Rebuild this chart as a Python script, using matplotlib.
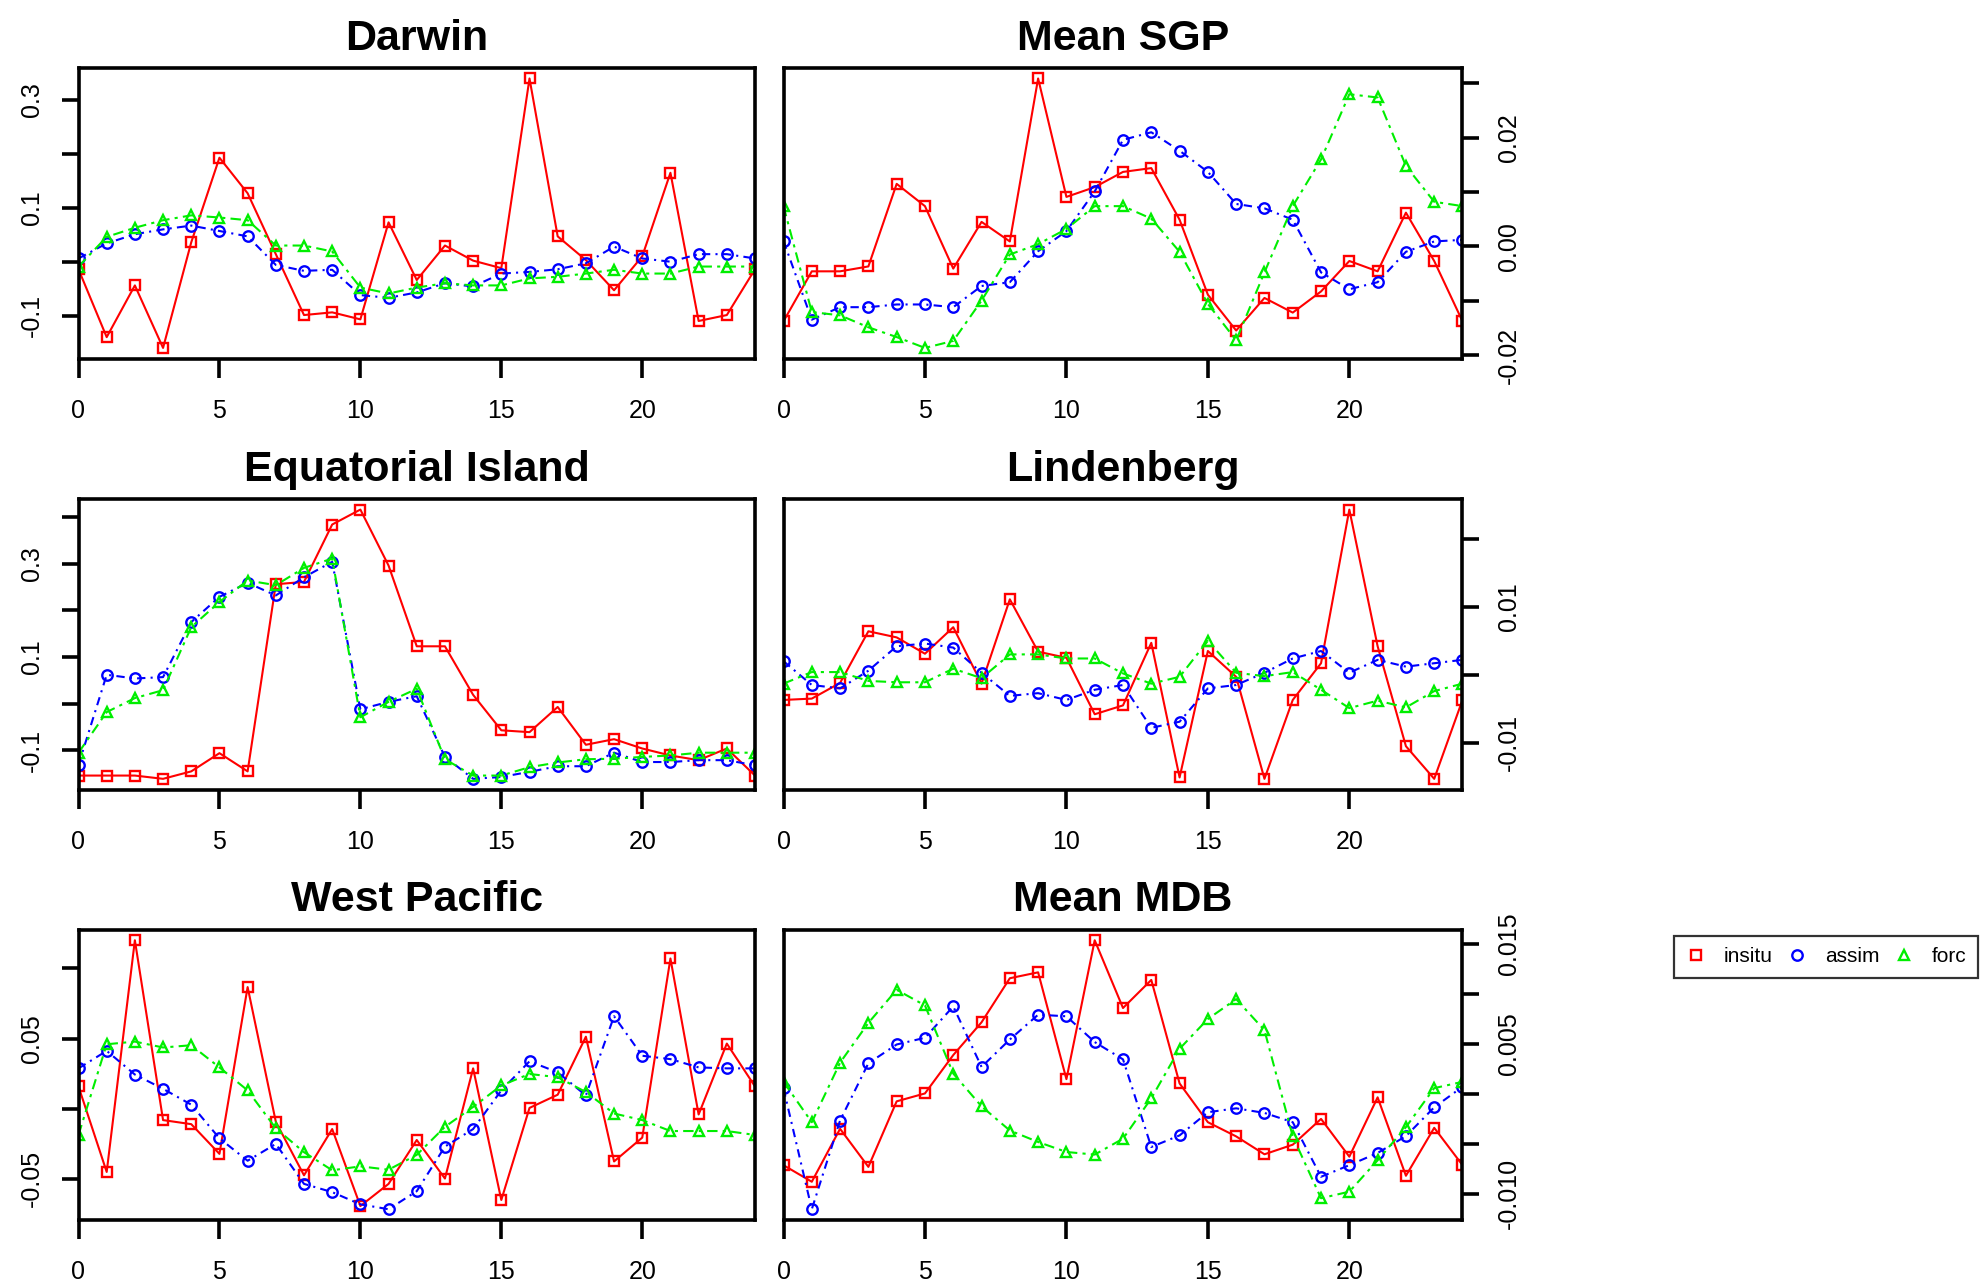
import matplotlib
matplotlib.use("Agg")
import matplotlib.pyplot as plt
from matplotlib.lines import Line2D

# hourly diurnal composites, hour 0..24
HOURS = list(range(25))

DARWIN_INSITU = [-0.014, -0.140, -0.044, -0.160, 0.036, 0.193, 0.127, 0.014, -0.099, -0.094, -0.107, 0.073, -0.034,
                 0.030, 0.002, -0.012, 0.340, 0.047, 0.003, -0.053, 0.010, 0.165, -0.110, -0.099, -0.014]
DARWIN_ASSIM = [0.006, 0.034, 0.051, 0.060, 0.067, 0.057, 0.047, -0.006, -0.017, -0.015, -0.062, -0.067, -0.057,
                -0.040, -0.046, -0.022, -0.019, -0.014, -0.003, 0.028, 0.006, 0.000, 0.014, 0.014, 0.006]
DARWIN_FORC = [-0.009, 0.046, 0.063, 0.077, 0.086, 0.082, 0.077, 0.030, 0.030, 0.019, -0.048, -0.059, -0.048,
               -0.040, -0.044, -0.044, -0.031, -0.028, -0.022, -0.015, -0.022, -0.022, -0.009, -0.009, -0.009]

SGP_INSITU = [-0.0138, -0.0046, -0.0046, -0.0037, 0.0115, 0.0074, -0.0041, 0.0045, 0.0009, 0.0309, 0.0091, 0.0109,
              0.0137, 0.0144, 0.0049, -0.0089, -0.0155, -0.0095, -0.0122, -0.0083, -0.0027, -0.0046, 0.0062,
              -0.0027, -0.0138]
SGP_ASSIM = [0.0010, -0.0135, -0.0112, -0.0112, -0.0107, -0.0107, -0.0112, -0.0073, -0.0066, -0.0009, 0.0028, 0.0101,
             0.0196, 0.0210, 0.0176, 0.0137, 0.0078, 0.0070, 0.0049, -0.0048, -0.0079, -0.0066, -0.0010, 0.0009,
             0.0012]
SGP_FORC = [0.0074, -0.0121, -0.0127, -0.0149, -0.0167, -0.0187, -0.0174, -0.0100, -0.0015, 0.0004, 0.0032, 0.0074,
            0.0074, 0.0051, -0.0010, -0.0106, -0.0173, -0.0048, 0.0074, 0.0160, 0.0280, 0.0274, 0.0148, 0.0082,
            0.0074]

EQI_INSITU = [-0.154, -0.154, -0.154, -0.161, -0.145, -0.106, -0.145, 0.256, 0.261, 0.384, 0.416, 0.296, 0.123,
              0.123, 0.019, -0.057, -0.061, -0.007, -0.088, -0.076, -0.096, -0.111, -0.121, -0.096, -0.154]
EQI_ASSIM = [-0.131, 0.062, 0.054, 0.057, 0.175, 0.229, 0.259, 0.232, 0.271, 0.304, -0.012, 0.004, 0.016,
             -0.114, -0.161, -0.157, -0.146, -0.134, -0.134, -0.105, -0.125, -0.125, -0.121, -0.121, -0.132]
EQI_FORC = [-0.105, -0.018, 0.012, 0.029, 0.164, 0.218, 0.264, 0.254, 0.291, 0.311, -0.029, 0.004, 0.032,
            -0.119, -0.154, -0.154, -0.136, -0.126, -0.119, -0.118, -0.114, -0.111, -0.105, -0.105, -0.105]

LIND_INSITU = [-0.0037, -0.0035, -0.0012, 0.0064, 0.0055, 0.0031, 0.0070, -0.0013, 0.0111, 0.0034, 0.0025, -0.0058,
               -0.0045, 0.0047, -0.0151, 0.0035, -0.0003, -0.0153, -0.0037, 0.0017, 0.0243, 0.0042, -0.0105,
               -0.0153, -0.0037]
LIND_ASSIM = [0.0020, -0.0015, -0.0020, 0.0006, 0.0042, 0.0046, 0.0040, 0.0003, -0.0031, -0.0027, -0.0037, -0.0022,
              -0.0015, -0.0078, -0.0069, -0.0020, -0.0015, 0.0003, 0.0024, 0.0035, 0.0003, 0.0022, 0.0012, 0.0017,
              0.0022]
LIND_FORC = [-0.0013, 0.0004, 0.0004, -0.0009, -0.0011, -0.0011, 0.0009, -0.0005, 0.0030, 0.0030, 0.0024, 0.0024,
             0.0002, -0.0013, -0.0003, 0.0050, 0.0003, -0.0002, 0.0004, -0.0022, -0.0049, -0.0038, -0.0048,
             -0.0024, -0.0013]

WPAC_INSITU = [0.0158, -0.0452, 0.1201, -0.0082, -0.0111, -0.0323, 0.0867, -0.0094, -0.0476, -0.0146, -0.0695,
               -0.0537, -0.0224, -0.0499, 0.0287, -0.0652, 0.0005, 0.0099, 0.0513, -0.0377, -0.0207, 0.1071,
               -0.0042, 0.0464, 0.0158]
WPAC_ASSIM = [0.0287, 0.0412, 0.0243, 0.0141, 0.0028, -0.0212, -0.0372, -0.0252, -0.0537, -0.0596, -0.0683,
              -0.0718, -0.0589, -0.0271, -0.0146, 0.0130, 0.0337, 0.0259, 0.0094, 0.0659, 0.0377, 0.0353, 0.0294,
              0.0287, 0.0287]
WPAC_FORC = [-0.0188, 0.0459, 0.0478, 0.0436, 0.0452, 0.0294, 0.0130, -0.0141, -0.0311, -0.0440, -0.0412, -0.0436,
             -0.0330, -0.0130, 0.0012, 0.0165, 0.0247, 0.0224, 0.0118, -0.0035, -0.0082, -0.0160, -0.0160,
             -0.0160, -0.0188]

MDB_INSITU = [-0.00715, -0.00881, -0.00351, -0.00732, -0.00076, 0.00003, 0.00387, 0.00715, 0.01156, 0.01215,
              0.00146, 0.01536, 0.00858, 0.01139, 0.00103, -0.00285, -0.00427, -0.00606, -0.00510, -0.00252,
              -0.00630, -0.00036, -0.00821, -0.00341, -0.00715]
MDB_ASSIM = [0.00053, -0.01156, -0.00268, 0.00305, 0.00493, 0.00560, 0.00874, 0.00268, 0.00543, 0.00791, 0.00775,
             0.00517, 0.00344, -0.00533, -0.00417, -0.00185, -0.00146, -0.00192, -0.00285, -0.00831, -0.00715,
             -0.00593, -0.00424, -0.00136, 0.00070]
MDB_FORC = [0.00119, -0.00285, 0.00311, 0.00709, 0.01040, 0.00884, 0.00202, -0.00126, -0.00368, -0.00483, -0.00583,
            -0.00609, -0.00450, -0.00046, 0.00450, 0.00748, 0.00947, 0.00636, -0.00427, -0.01046, -0.00980,
            -0.00666, -0.00334, 0.00056, 0.00119]

TITLES = ["Darwin", "Mean SGP", "Equatorial Island", "Lindenberg", "West Pacific", "Mean MDB"]
SERIES = ["insitu", "assim", "forc"]
XTICKS = [0, 5, 10, 15, 20]
# y ticks per panel; R dropped overlapping labels, so some are blank
YTICKS = [[-0.1, 0.0, 0.1, 0.2, 0.3], [-0.02, -0.01, 0.0, 0.01, 0.02, 0.03],
          [-0.1, 0.0, 0.1, 0.2, 0.3, 0.4], [-0.01, 0.0, 0.01, 0.02],
          [-0.05, 0.0, 0.05, 0.10], [-0.010, -0.005, 0.0, 0.005, 0.010, 0.015]]
YLABELS = [["-0.1", "", "0.1", "", "0.3"], ["-0.02", "", "0.00", "", "0.02", ""],
           ["-0.1", "", "0.1", "", "0.3", ""], ["-0.01", "", "0.01", ""],
           ["-0.05", "", "0.05", ""], ["-0.010", "", "", "0.005", "", "0.015"]]

RED, BLUE, GREEN = "#ff0000", "#0000ff", "#00ee00"
STYLE = [(RED, "-", "s"), (BLUE, (0, (4, 2.5, 1, 2.5)), "o"), (GREEN, (0, (5, 2.5, 1.5, 2.5)), "^")]
plt.rcParams.update({"font.family": ["Liberation Sans", "DejaVu Sans"]})

W, H = 1984, 1287
ROWS = [(67.7, 358.7), (498.8, 789.6), (929.5, 1220.0)]
COLS = [(78.5, 755.0), (783.5, 1462.5)]

fig = plt.figure(figsize=(W / 100, H / 100), dpi=100)
panels = [(DARWIN_INSITU, DARWIN_ASSIM, DARWIN_FORC), (SGP_INSITU, SGP_ASSIM, SGP_FORC),
          (EQI_INSITU, EQI_ASSIM, EQI_FORC), (LIND_INSITU, LIND_ASSIM, LIND_FORC),
          (WPAC_INSITU, WPAC_ASSIM, WPAC_FORC), (MDB_INSITU, MDB_ASSIM, MDB_FORC)]

for i, data in enumerate(panels):
    r, c = divmod(i, 2)
    (t, b), (l, rr) = ROWS[r], COLS[c]
    ax = fig.add_axes([l / W, 1 - b / H, (rr - l) / W, (b - t) / H])
    for vals, (col, ls, mk) in zip(data, STYLE):
        ax.plot(HOURS, vals, color=col, ls=ls, lw=1.5, marker=mk, ms=7.5, mfc="none", mew=1.7)
    allv = [v for s in data for v in s]
    lo, hi = min(allv), max(allv)
    pad = 0.04 * (hi - lo)
    ax.set_xlim(0, 24); ax.set_ylim(lo - pad, hi + pad)
    ax.set_xticks(XTICKS)
    ax.set_yticks(YTICKS[i], YLABELS[i], va="center")
    if c == 1:
        ax.yaxis.tick_right()
    ax.tick_params(axis="x", length=14, width=2.6, pad=15, labelsize=18)
    ax.tick_params(axis="y", length=12, width=2.6, pad=13, labelsize=18, labelrotation=90)
    for s in ax.spines.values():
        s.set_linewidth(2.6)
    ax.set_title(TITLES[i], fontsize=31, fontweight="bold", pad=13)

handles = [Line2D([], [], color=col, ls="none", marker=mk, ms=7.5, mfc="none", mew=1.7) for col, _, mk in STYLE]
leg = fig.legend(handles, SERIES, loc="center left", bbox_to_anchor=(1674 / W, 1 - 957 / H), ncol=3,
                 fancybox=False, edgecolor="black", fontsize=15, handlelength=1.0, handletextpad=0.85,
                 columnspacing=0.65, borderpad=0.55, borderaxespad=0)
leg.get_frame().set_linewidth(1.6)

fig.savefig("out.png", dpi=100)
